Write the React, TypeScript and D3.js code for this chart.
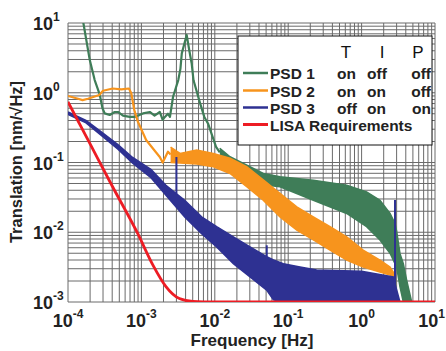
import React from 'react';
import * as d3 from 'd3';

// ---- data (frequency [Hz], translation [nm/sqrt(Hz)]) ----
const X_TICKS = [1e-4, 1e-3, 1e-2, 1e-1, 1, 10];
const X_EXP = ['-4', '-3', '-2', '-1', '0', '1'];
const Y_TICKS = [1e-3, 1e-2, 1e-1, 1, 10];
const Y_EXP = ['-3', '-2', '-1', '0', '1'];

// PSD 1: low-frequency trace then noisy band [f, lo, hi]
const psd1Line: [number, number][] = [
  [1.5e-4, 13], [1.62e-4, 10], [1.98e-4, 2.94], [2.31e-4, 1.52], [2.7e-4, 0.95],
  [2.95e-4, 0.6], [3.16e-4, 0.506], [3.7e-4, 0.48], [4.33e-4, 0.53], [4.8e-4, 0.53],
  [5.61e-4, 0.47], [6.92e-4, 0.45], [8.13e-4, 0.45], [1.05e-3, 0.506], [1.3e-3, 0.53],
  [1.51e-3, 0.47], [1.78e-3, 0.53], [1.95e-3, 0.41], [2.09e-3, 0.45], [2.3e-3, 0.5],
  [2.45e-3, 0.45], [2.7e-3, 0.877], [3.18e-3, 1.52], [3.4e-3, 2.2], [3.55e-3, 3.67],
  [4.14e-3, 6.73], [4.5e-3, 4.0], [4.84e-3, 2.63], [5.13e-3, 1.51], [6.31e-3, 0.705],
  [7.2e-3, 0.45], [8.1e-3, 0.36], [1.04e-2, 0.168], [1.17e-2, 0.14],
];
const psd1Band: [number, number, number][] = [
  [0.0117, 0.11, 0.16], [0.0161, 0.079, 0.121], [0.0458, 0.048, 0.0697],
  [0.0773, 0.0449, 0.0624], [0.22, 0.0288, 0.0558], [0.626, 0.0186, 0.0474],
  [1.17, 0.012, 0.038], [1.78, 0.00776, 0.0288], [2.44, 0.005, 0.0186],
  [2.85, 0.00355, 0.0134], [3.0, 0.00318, 0.0105], [3.33, 0.00166, 0.00497],
  [3.7, 0.001, 0.00355], [4.11, 0.001, 0.00206], [4.81, 0.001, 0.001],
];

// PSD 2
const psd2Line: [number, number][] = [
  [1e-4, 0.9], [1.37e-4, 0.82], [1.58e-4, 0.785], [1.87e-4, 0.82], [2.67e-4, 0.927],
  [3.0e-4, 1.07], [4.07e-4, 1.15], [5.32e-4, 1.12], [6.76e-4, 1.15], [7.29e-4, 0.98],
  [8.0e-4, 0.565], [8.99e-4, 0.38], [1.16e-3, 0.21], [1.5e-3, 0.15], [1.78e-3, 0.12],
  [1.95e-3, 0.1], [2.3e-3, 0.143], [2.5e-3, 0.13],
];
const psd2Band: [number, number, number][] = [
  [2.5e-3, 0.1, 0.166], [3.36e-3, 0.098, 0.135], [5.66e-3, 0.095, 0.151],
  [9.55e-3, 0.087, 0.135], [0.0161, 0.0697, 0.115], [0.0272, 0.0449, 0.087],
  [0.0457, 0.0288, 0.0562], [0.0773, 0.0166, 0.036], [0.131, 0.0107, 0.0231],
  [0.22, 0.00776, 0.0166], [0.372, 0.00553, 0.012], [0.626, 0.00398, 0.0086],
  [1.05, 0.00318, 0.00553], [1.78, 0.00269, 0.00398], [2.44, 0.00243, 0.00318],
  [2.7, 0.0023, 0.00269], [3.0, 0.001, 0.001],
];

// PSD 3
const psd3Band: [number, number, number][] = [
  [1e-4, 0.49, 0.53], [1.76e-4, 0.37, 0.4], [2.84e-4, 0.245, 0.275], [4.79e-4, 0.155, 0.18],
  [7.6e-4, 0.098, 0.118], [1.36e-3, 0.06, 0.079], [2.16e-3, 0.034, 0.047],
  [3.89e-3, 0.0166, 0.0288], [6.61e-3, 0.0095, 0.0166], [1.06e-2, 0.00617, 0.012],
  [1.79e-2, 0.00355, 0.0086], [3.02e-2, 0.00229, 0.00617], [5.09e-2, 0.00148, 0.00447],
  [6.3e-2, 0.00107, 0.004], [8.57e-2, 0.001, 0.00355], [0.145, 0.001, 0.00318],
  [0.244, 0.001, 0.00288], [1.0, 0.001, 0.00275], [2.7, 0.001, 0.00229],
  [3.0, 0.001, 0.0015], [3.33, 0.001, 0.001],
];
const psd3Spikes: [number, number, number][] = [
  [3.0e-3, 0.035, 0.12], [0.051, 0.004, 0.0065], [2.85, 0.001, 0.029],
];

// LISA requirement
const lisaLine: [number, number][] = [
  [1e-4, 0.74], [2e-4, 0.185], [4e-4, 0.046], [8.9e-4, 0.0096], [1.43e-3, 0.0034],
  [2.16e-3, 0.00166], [3.29e-3, 0.00112], [5e-3, 0.00102], [1e-2, 0.001], [10, 0.001],
];

const LEGEND_NAMES = ['PSD 1', 'PSD 2', 'PSD 3', 'LISA Requirements'];
const LEGEND_T = ['on', 'on', 'off'];
const LEGEND_I = ['off', 'on', 'on'];
const LEGEND_P = ['off', 'off', 'on'];

const COLORS = ['#3f7d58', '#f7941d', '#2e3192', '#ed1c24'];

const W = 446, H = 351;
const L = 68, R = 435, T = 23, B = 302;
const FONT = '"Liberation Sans", Arial, sans-serif';

export default function App() {
  const x = d3.scaleLog().domain([1e-4, 10]).range([L, R]);
  const y = d3.scaleLog().domain([1e-3, 10]).range([B, T]);

  const line = d3.line<[number, number]>().x(d => x(d[0])).y(d => y(d[1]));
  const smooth = d3.line<[number, number]>().x(d => x(d[0])).y(d => y(d[1])).curve(d3.curveMonotoneX);
  const area = d3.area<[number, number, number]>().x(d => x(d[0])).y0(d => y(d[1])).y1(d => y(d[2]));
  const lo = d3.line<[number, number, number]>().x(d => x(d[0])).y(d => y(d[1]));
  const hi = d3.line<[number, number, number]>().x(d => x(d[0])).y(d => y(d[2]));

  const xGrid: number[] = [];
  for (let e = -4; e < 1; e++) for (let k = 1; k <= 9; k++) xGrid.push(k * Math.pow(10, e));
  xGrid.push(10);
  const yGrid: number[] = [];
  for (let e = -3; e < 1; e++) for (let k = 1; k <= 9; k++) yGrid.push(k * Math.pow(10, e));
  yGrid.push(10);

  const band = (data: [number, number, number][], c: string) => (
    <g>
      <path d={area(data) || ''} fill={c} stroke="none" />
      <path d={lo(data) || ''} fill="none" stroke={c} strokeWidth={1.5} />
      <path d={hi(data) || ''} fill="none" stroke={c} strokeWidth={1.5} />
    </g>
  );

  const rowY = [79, 96.5, 113.5, 130.5];

  return (
    <svg width={W} height={H} style={{ position: 'absolute', left: 0, top: 0, background: '#fff' }} fontFamily={FONT}>
      <defs>
        <clipPath id="plot"><rect x={L} y={T} width={R - L} height={B - T} /></clipPath>
      </defs>
      <rect x={0} y={0} width={W} height={H} fill="#fff" />
      <g stroke="#6a6a6a" strokeWidth={1}>
        {xGrid.map((f, i) => <line key={'x' + i} x1={x(f)} x2={x(f)} y1={T} y2={B} />)}
        {yGrid.map((v, i) => <line key={'y' + i} x1={L} x2={R} y1={y(v)} y2={y(v)} />)}
      </g>
      <g clipPath="url(#plot)">
        <path d={line(psd1Line) || ''} fill="none" stroke={COLORS[0]} strokeWidth={2.2} strokeLinejoin="round" />
        {band(psd1Band, COLORS[0])}
        <path d={line(psd2Line) || ''} fill="none" stroke={COLORS[1]} strokeWidth={2.2} strokeLinejoin="round" />
        {band(psd2Band, COLORS[1])}
        {band(psd3Band, COLORS[2])}
        {psd3Spikes.map((s, i) => (
          <line key={'s' + i} x1={x(s[0])} x2={x(s[0])} y1={y(s[1])} y2={y(s[2])} stroke={COLORS[2]} strokeWidth={2} />
        ))}
        <path d={smooth(lisaLine) || ''} fill="none" stroke={COLORS[3]} strokeWidth={2.8} strokeLinejoin="round" />
      </g>
      {/* tick labels */}
      <g fontWeight="bold" fill="#222">
        {X_TICKS.map((f, i) => (
          <text key={'xt' + i} x={i === X_TICKS.length - 1 ? 445 : x(f)} y={327}
            textAnchor={i === X_TICKS.length - 1 ? 'end' : 'middle'} fontSize={18}>
            10<tspan dy={-9} fontSize={12}>{X_EXP[i]}</tspan>
          </text>
        ))}
        {Y_TICKS.map((v, i) => (
          <text key={'yt' + i} x={33} y={y(v) + 7} textAnchor="start" fontSize={18}>
            10<tspan dy={-9} fontSize={12}>{Y_EXP[i]}</tspan>
          </text>
        ))}
      </g>
      <text x={252} y={346} textAnchor="middle" fontSize={17} fontWeight="bold" fill="#222">Frequency [Hz]</text>
      <text transform="translate(22,162) rotate(-90)" textAnchor="middle" fontSize={16.5} fontWeight="bold" fill="#222">Translation [nm/√Hz]</text>
      {/* legend */}
      <rect x={238} y={36} width={194} height={109} fill="#fff" stroke="#111" strokeWidth={1} />
      <g fontSize={17} fill="#111">
        <text x={346} y={58} textAnchor="middle">T</text>
        <text x={382} y={58} textAnchor="middle">I</text>
        <text x={418} y={58} textAnchor="middle">P</text>
      </g>
      <g fontSize={15.5} fontWeight="bold" fill="#222">
        {LEGEND_NAMES.map((n, i) => (
          <g key={'lg' + i}>
            <line x1={243} x2={268} y1={rowY[i] - 6} y2={rowY[i] - 6} stroke={COLORS[i]} strokeWidth={i === 3 ? 3 : 2.5} />
            <text x={270} y={rowY[i]}>{n}</text>
            {i < 3 && <text x={337} y={rowY[i]}>{LEGEND_T[i]}</text>}
            {i < 3 && <text x={367} y={rowY[i]}>{LEGEND_I[i]}</text>}
            {i < 3 && <text x={431} y={rowY[i]} textAnchor="end">{LEGEND_P[i]}</text>}
          </g>
        ))}
      </g>
    </svg>
  );
}
